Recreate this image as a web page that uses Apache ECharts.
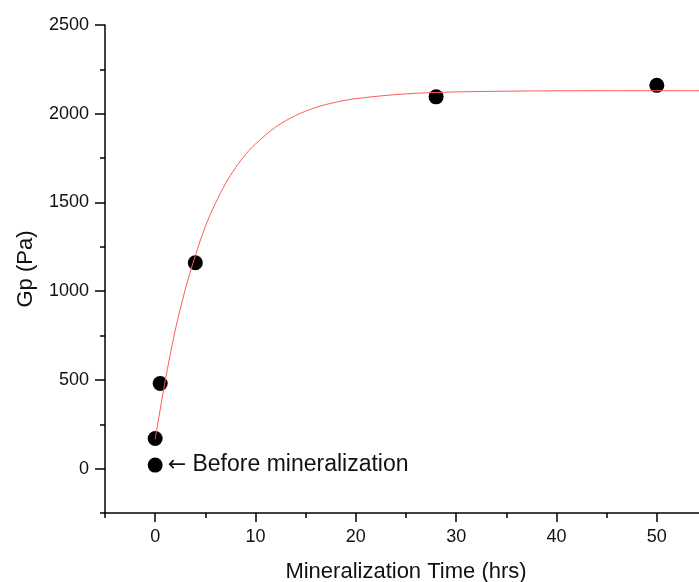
<!DOCTYPE html>
<html>
<head>
<meta charset="utf-8">
<script src="https://cdn.jsdelivr.net/npm/echarts@6/dist/echarts.min.js"></script>
<style>
  html, body { margin: 0; padding: 0; background: #fff; }
  #chart { width: 699px; height: 582px; }
</style>
</head>
<body>
<div id="chart"></div>
<script>
// measured points (hrs, Pa)
var timeHrs = [0, 0.5, 4, 28, 50];
var gpPa = [170, 480, 1160, 2095, 2160];

// the sample before mineralization
var beforeTime = [0];
var beforeGp = [20];

// fitted curve
var fitTime = [0, 1, 2, 3, 4, 5, 6, 7, 8, 9, 10, 12, 14, 16, 18, 20, 24, 28, 35, 45, 55];
var fitGp = [165, 495, 780, 1010, 1200, 1365, 1495, 1605, 1695, 1770, 1830, 1925, 1990, 2035, 2065, 2085, 2108, 2120, 2127, 2130, 2130];

var xMajor = [0, 10, 20, 30, 40, 50];
var xMinor = [-5, 5, 15, 25, 35, 45, 55];
var yMajor = [0, 500, 1000, 1500, 2000, 2500];
var yMinor = [-250, 250, 750, 1250, 1750, 2250];

function pairs(xs, ys) {
  return xs.map(function (x, i) { return [x, ys[i]]; });
}
function plain(v) { return String(v); }

var FONT = 'Liberation Sans, Arial, sans-serif';
var black = '#000';
var txt = '#111';

var chart = echarts.init(document.getElementById('chart'));

chart.setOption({
  backgroundColor: '#fff',
  animation: false,
  grid: { left: 105, right: -8, top: 25, bottom: 69, outerBoundsMode: 'none' },
  xAxis: [
    {
      type: 'value', min: -5, max: 55,
      name: 'Mineralization Time (hrs)', nameLocation: 'middle', nameGap: 48,
      nameTextStyle: { fontFamily: FONT, fontSize: 22, color: txt },
      axisLine: { onZero: false, lineStyle: { color: black, width: 1.5 } },
      axisTick: { customValues: xMajor, length: 9, lineStyle: { color: black, width: 1.5 } },
      axisLabel: { customValues: xMajor, formatter: plain, margin: 15, fontFamily: FONT, fontSize: 18, color: txt },
      splitLine: { show: false }
    },
    {
      // minor ticks only
      type: 'value', min: -5, max: 55, position: 'bottom',
      axisLine: { show: false, onZero: false },
      axisTick: { customValues: xMinor, length: 5, lineStyle: { color: black, width: 1.5 } },
      axisLabel: { show: false },
      splitLine: { show: false }
    }
  ],
  yAxis: [
    {
      type: 'value', min: -250, max: 2500,
      name: 'Gp (Pa)', nameLocation: 'middle', nameGap: 68,
      nameTextStyle: { fontFamily: FONT, fontSize: 22, color: txt },
      axisLine: { onZero: false, lineStyle: { color: black, width: 1.5 } },
      axisTick: { customValues: yMajor, length: 10, lineStyle: { color: black, width: 1.5 } },
      axisLabel: { customValues: yMajor, formatter: plain, margin: 16, fontFamily: FONT, fontSize: 18, color: txt },
      splitLine: { show: false }
    },
    {
      type: 'value', min: -250, max: 2500, position: 'left',
      axisLine: { show: false, onZero: false },
      axisTick: { customValues: yMinor, length: 5, lineStyle: { color: black, width: 1.5 } },
      axisLabel: { show: false },
      splitLine: { show: false }
    }
  ],
  series: [
    {
      name: 'fit',
      type: 'line',
      data: pairs(fitTime, fitGp),
      smooth: 0.3,
      showSymbol: false,
      lineStyle: { color: '#ff5a5a', width: 1 },
      z: 3
    },
    {
      name: 'Gp',
      type: 'scatter',
      data: pairs(timeHrs, gpPa),
      symbolSize: 15,
      itemStyle: { color: black, opacity: 1 },
      z: 2
    },
    {
      name: 'before',
      type: 'scatter',
      data: pairs(beforeTime, beforeGp),
      symbolSize: 15,
      itemStyle: { color: black, opacity: 1 },
      label: {
        show: true,
        position: 'right',
        distance: 5,
        formatter: '{a|\u2190} Before mineralization',
        fontFamily: FONT,
        fontSize: 23,
        color: txt,
        rich: {
          a: { fontFamily: 'DejaVu Sans', fontSize: 22, color: txt }
        }
      }
    }
  ]
});
</script>
</body>
</html>
